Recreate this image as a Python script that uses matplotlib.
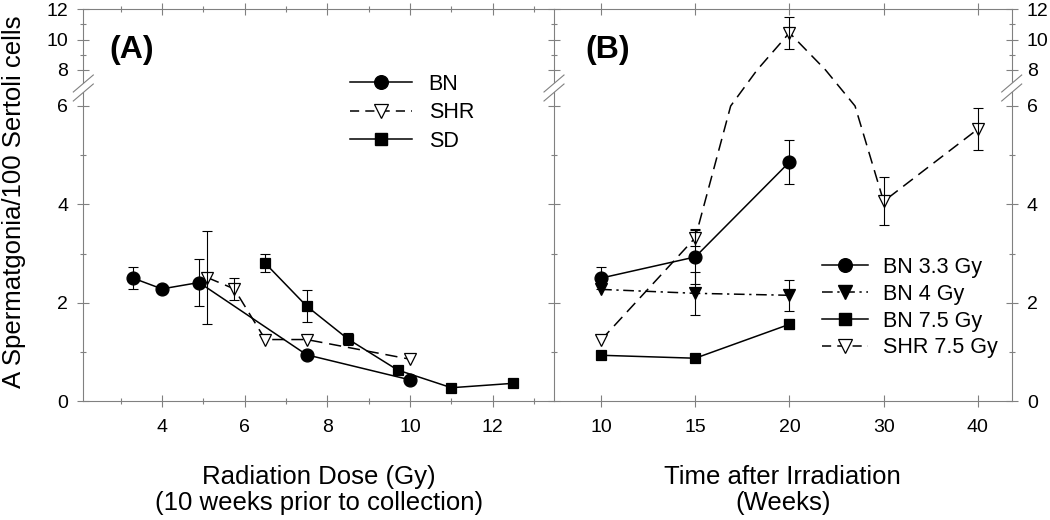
import numpy as np
import matplotlib
matplotlib.use("Agg")
import matplotlib.pyplot as plt
from matplotlib.lines import Line2D
from matplotlib.patches import Polygon

plt.rcParams['font.family'] = ['Liberation Sans', 'DejaVu Sans']

# ---------------- data: panel A (dose response, 10 weeks) ----------------
bn_dose = [3.3, 4.0, 4.9, 7.5, 10.0]
bn_val = [2.50, 2.28, 2.41, 0.94, 0.43]
bn_err = [0.23, 0.0, 0.48, 0.0, 0.0]

shr_dose = [5.1, 5.75, 6.5, 7.5, 10.0]
shr_val = [2.51, 2.28, 1.25, 1.25, 0.85]
shr_err = [0.95, 0.22, 0.0, 0.0, 0.0]

sd_dose = [6.5, 7.5, 8.5, 9.7, 11.0, 12.5]
sd_val = [2.80, 1.93, 1.26, 0.63, 0.27, 0.36]
sd_err = [0.18, 0.33, 0.13, 0.0, 0.0, 0.0]

# ---------------- data: panel B (time course) ----------------
weeks = ['10', '15', '20', '30', '40']
bn33_val = [2.50, 2.93, 4.86]
bn33_err = [0.23, 0.55, 0.44]
bn4_val = [2.27, 2.19, 2.15]
bn4_err = [0.0, 0.44, 0.31]
bn75_val = [0.93, 0.87, 1.56]
bn75_err = [0.0, 0.0, 0.10]
shr75_val = [1.24, 3.32, 10.45, 4.06, 5.53]
shr75_err = [0.0, 0.17, 1.05, 0.49, 0.42]

# ---------------- broken y scale ----------------
Y_DATA = [0.0, 6.0, 8.0, 12.0]
Y_DISP = [0.0, 295.0, 331.0, 391.7]


def fwd(y):
    return np.interp(np.asarray(y, dtype=float), Y_DATA, Y_DISP)


def inv(v):
    return np.interp(np.asarray(v, dtype=float), Y_DISP, Y_DATA)


def break_path(x, y):
    """Follow the broken scale: add vertices where a segment crosses the break."""
    xs, ys = [x[0]], [y[0]]
    for i in range(1, len(x)):
        x0, y0, x1, y1 = x[i - 1], y[i - 1], x[i], y[i]
        bnds = [b for b in (6.0, 8.0) if min(y0, y1) < b < max(y0, y1)]
        bnds.sort(reverse=(y1 < y0))
        for b in bnds:
            t = (b - y0) / (y1 - y0)
            xs.append(x0 + t * (x1 - x0))
            ys.append(b)
        xs.append(x1)
        ys.append(y1)
    return xs, ys


W, H = 1050, 520
fig = plt.figure(figsize=(W / 100, H / 100), dpi=100)
bottom = 1 - 401 / H
height = (401 - 9.3) / H
axA = fig.add_axes([83.3 / W, bottom, (554 - 83.3) / W, height])
axB = fig.add_axes([554 / W, bottom, (1011.7 - 554) / W, height])

SPINE = '#808080'
LW = 1.1


def style_axis(ax):
    ax.set_yscale('function', functions=(fwd, inv))
    ax.set_ylim(0, 12)
    ax.set_yticks([0, 2, 4, 6, 8, 10, 12], labels=['0', '2', '4', '6', '8', '10', '12'])
    ax.set_yticks([1, 3, 5, 9, 11], minor=True)
    for s in ax.spines.values():
        s.set_color(SPINE)
        s.set_linewidth(0.8)
    ax.tick_params(which='both', direction='inout', color=SPINE, width=0.8,
                   labelsize=14, top=True)
    ax.tick_params(which='major', length=8)
    ax.tick_params(which='minor', length=5)
    ax.tick_params(axis='x', pad=9)
    ax.tick_params(axis='y', pad=7)


def draw_series(ax, x, y, err, ls, marker, mfc, ms, dashes=None):
    px, py = break_path(list(x), list(y))
    kw = dict(color='black', lw=LW, zorder=2)
    line, = ax.plot(px, py, ls=ls, **kw)
    if dashes is not None:
        line.set_dashes(dashes)
    ax.plot(x, y, ls='none', marker=marker, mfc=mfc, mec='black', mew=0.9,
            ms=ms, zorder=3)
    x = np.asarray(x, float)
    y = np.asarray(y, float)
    e = np.asarray(err, float)
    m = e > 0
    if m.any():
        ax.errorbar(x[m], y[m], yerr=e[m], fmt='none', ecolor='black',
                    elinewidth=0.8, capsize=3.8, capthick=0.8, zorder=4)


SHR_DASH = (8, 4.5)
DASHDOT = (7, 3, 1.5, 3)

# ---------------- panel A ----------------
style_axis(axA)
axA.set_xlim(2.1, 13.48)
axA.set_xticks([4, 6, 8, 10, 12])
axA.set_xticks([3, 5, 7, 9, 11, 13], minor=True)
axA.spines['right'].set_visible(False)
axA.tick_params(which='both', right=False)

draw_series(axA, bn_dose, bn_val, bn_err, '-', 'o', 'black', 9.3)
draw_series(axA, shr_dose, shr_val, shr_err, '--', 'v', 'white', 9.3, SHR_DASH)
draw_series(axA, sd_dose, sd_val, sd_err, '-', 's', 'black', 7.8)

axA.set_ylabel('A Spermatgonia/100 Sertoli cells', fontsize=18.5)
axA.yaxis.set_label_coords(-0.121, 0.508)
axA.set_xlabel('Radiation Dose (Gy)\n(10 weeks prior to collection)',
               fontsize=18.5, linespacing=1.12)
axA.xaxis.set_label_coords(0.5, -0.163)
axA.text(0.103, 0.896, '(A)', transform=axA.transAxes, fontsize=23,
         fontweight='bold', ha='center', va='center')

hA = [Line2D([], [], color='black', lw=LW, marker='o', ms=9.8, mfc='black', mec='black'),
      Line2D([], [], color='black', lw=LW, ls='--', dashes=(6, 4), marker='v', ms=10,
             mfc='white', mec='black', mew=0.9),
      Line2D([], [], color='black', lw=LW, marker='s', ms=8.2, mfc='black', mec='black')]
fig.legend(hA, ['BN', 'SHR', 'SD'], loc='upper left',
           bbox_to_anchor=(350 / W, 1 - 74 / H), frameon=False, fontsize=15.5,
           handlelength=2.9, handletextpad=0.75, labelspacing=0.34,
           borderpad=0, borderaxespad=0, numpoints=1)

# ---------------- panel B ----------------
style_axis(axB)
xpos = np.arange(len(weeks))
axB.set_xlim(-0.5, 4.36)
axB.set_xticks(xpos, labels=weeks)
axB.tick_params(axis='y', which='both', left=True, right=True,
                labelleft=False, labelright=True)

draw_series(axB, xpos[:3], bn33_val, bn33_err, '-', 'o', 'black', 9.3)
draw_series(axB, xpos[:3], bn4_val, bn4_err, '-.', 'v', 'black', 9.3, DASHDOT)
draw_series(axB, xpos[:3], bn75_val, bn75_err, '-', 's', 'black', 7.8)
draw_series(axB, xpos, shr75_val, shr75_err, '--', 'v', 'white', 9.3, SHR_DASH)

axB.set_xlabel('Time after Irradiation\n(Weeks)', fontsize=18.5, linespacing=1.12)
axB.xaxis.set_label_coords(0.5, -0.163)
axB.text(0.118, 0.896, '(B)', transform=axB.transAxes, fontsize=23,
         fontweight='bold', ha='center', va='center')

hB = [Line2D([], [], color='black', lw=LW, marker='o', ms=9.8, mfc='black', mec='black'),
      Line2D([], [], color='black', lw=LW, ls='-.', dashes=DASHDOT, marker='v', ms=10,
             mfc='black', mec='black'),
      Line2D([], [], color='black', lw=LW, marker='s', ms=8.2, mfc='black', mec='black'),
      Line2D([], [], color='black', lw=LW, ls='--', dashes=(6, 4), marker='v', ms=10,
             mfc='white', mec='black', mew=0.9)]
fig.legend(hB, ['BN 3.3 Gy', 'BN 4 Gy', 'BN 7.5 Gy', 'SHR 7.5 Gy'], loc='upper left',
           bbox_to_anchor=(822 / W, 1 - 257 / H), frameon=False, fontsize=15.5,
           handlelength=2.15, handletextpad=0.7, labelspacing=0.27,
           borderpad=0, borderaxespad=0, numpoints=1)


# ---------------- break marks on the vertical spines ----------------
def break_mark(ax, xfrac):
    xd = ax.transAxes.transform((xfrac, 0))[0]
    yd = ax.transData.transform((ax.get_xlim()[0], 7.0))[1]
    dx, dy, off = 10, 8.5, 4.5
    p1 = [(xd - dx, yd - off - dy), (xd + dx, yd - off + dy)]
    p2 = [(xd - dx, yd + off - dy), (xd + dx, yd + off + dy)]
    poly = Polygon([(x / W, y / H) for x, y in [p1[0], p1[1], p2[1], p2[0]]],
                   closed=True, facecolor='white', edgecolor='none',
                   transform=fig.transFigure, zorder=10)
    fig.add_artist(poly)
    for p in (p1, p2):
        fig.add_artist(Line2D([p[0][0] / W, p[1][0] / W], [p[0][1] / H, p[1][1] / H],
                              color=SPINE, lw=0.8, transform=fig.transFigure, zorder=11))


break_mark(axA, 0.0)
break_mark(axB, 0.0)
break_mark(axB, 1.0)

fig.savefig('out.png', dpi=100)
